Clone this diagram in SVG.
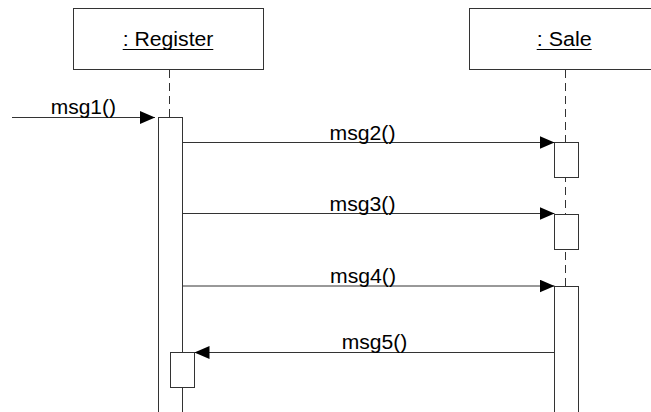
<svg xmlns="http://www.w3.org/2000/svg" width="651" height="412" viewBox="0 0 651 412">
<style>
.box{fill:#fff;stroke:#333;stroke-width:1}
.life{fill:none;stroke:#333;stroke-width:1;stroke-dasharray:8 5}
.msg{fill:none;stroke:#333;stroke-width:1}
.t{font-family:"Liberation Sans",Arial,sans-serif;font-size:20.5px;fill:#000}
.ul{stroke:#000;stroke-width:1}
</style>
<defs>
<marker id="ah" viewBox="0 0 15 13" refX="15" refY="6.5" markerWidth="15" markerHeight="13" markerUnits="userSpaceOnUse" orient="auto">
<path d="M0,0 L15,6.5 L0,13 Z" fill="#000"/>
</marker>
</defs>
<rect width="651" height="412" fill="#fff"/>
<g id="register">
<rect class="box" x="73.5" y="8.5" width="190" height="61"/>
<text class="t" x="122.7" y="46" textLength="90.7" lengthAdjust="spacingAndGlyphs">: Register</text>
<line class="ul" x1="122.7" y1="49.5" x2="213.3" y2="49.5"/>
<line class="life" x1="169.5" y1="70" x2="169.5" y2="117.5"/>
<rect class="box" x="158.5" y="117.5" width="24" height="300"/>
<rect class="box" x="170.5" y="352.5" width="24" height="35"/>
</g>
<g id="sale">
<rect class="box" x="469.5" y="8.5" width="192" height="61"/>
<text class="t" x="536.7" y="46" textLength="55" lengthAdjust="spacingAndGlyphs">: Sale</text>
<line class="ul" x1="536.7" y1="49.5" x2="591.7" y2="49.5"/>
<line class="life" x1="565.5" y1="70" x2="565.5" y2="286"/>
<rect class="box" x="554.5" y="142.5" width="24" height="35"/>
<rect class="box" x="554.5" y="214.5" width="24" height="35"/>
<rect class="box" x="554.5" y="286.5" width="24" height="140"/>
</g>
<g id="connectors">
<line class="msg" x1="12" y1="117.5" x2="155" y2="117.5" marker-end="url(#ah)"/>
<text class="t" x="50.7" y="114" textLength="65.3" lengthAdjust="spacingAndGlyphs">msg1()</text>
<line class="msg" x1="182.5" y1="142.5" x2="554.5" y2="142.5" marker-end="url(#ah)"/>
<text class="t" x="329.5" y="139.5" textLength="66" lengthAdjust="spacingAndGlyphs">msg2()</text>
<line class="msg" x1="182.5" y1="213.5" x2="554.5" y2="213.5" marker-end="url(#ah)"/>
<text class="t" x="329.5" y="210.5" textLength="66" lengthAdjust="spacingAndGlyphs">msg3()</text>
<line class="msg" x1="182.5" y1="286" x2="554.5" y2="286" marker-end="url(#ah)"/>
<text class="t" x="330" y="283" textLength="66" lengthAdjust="spacingAndGlyphs">msg4()</text>
<line class="msg" x1="554.5" y1="352.5" x2="194.5" y2="352.5" marker-end="url(#ah)"/>
<text class="t" x="341.7" y="349" textLength="65.6" lengthAdjust="spacingAndGlyphs">msg5()</text>
</g>
</svg>
